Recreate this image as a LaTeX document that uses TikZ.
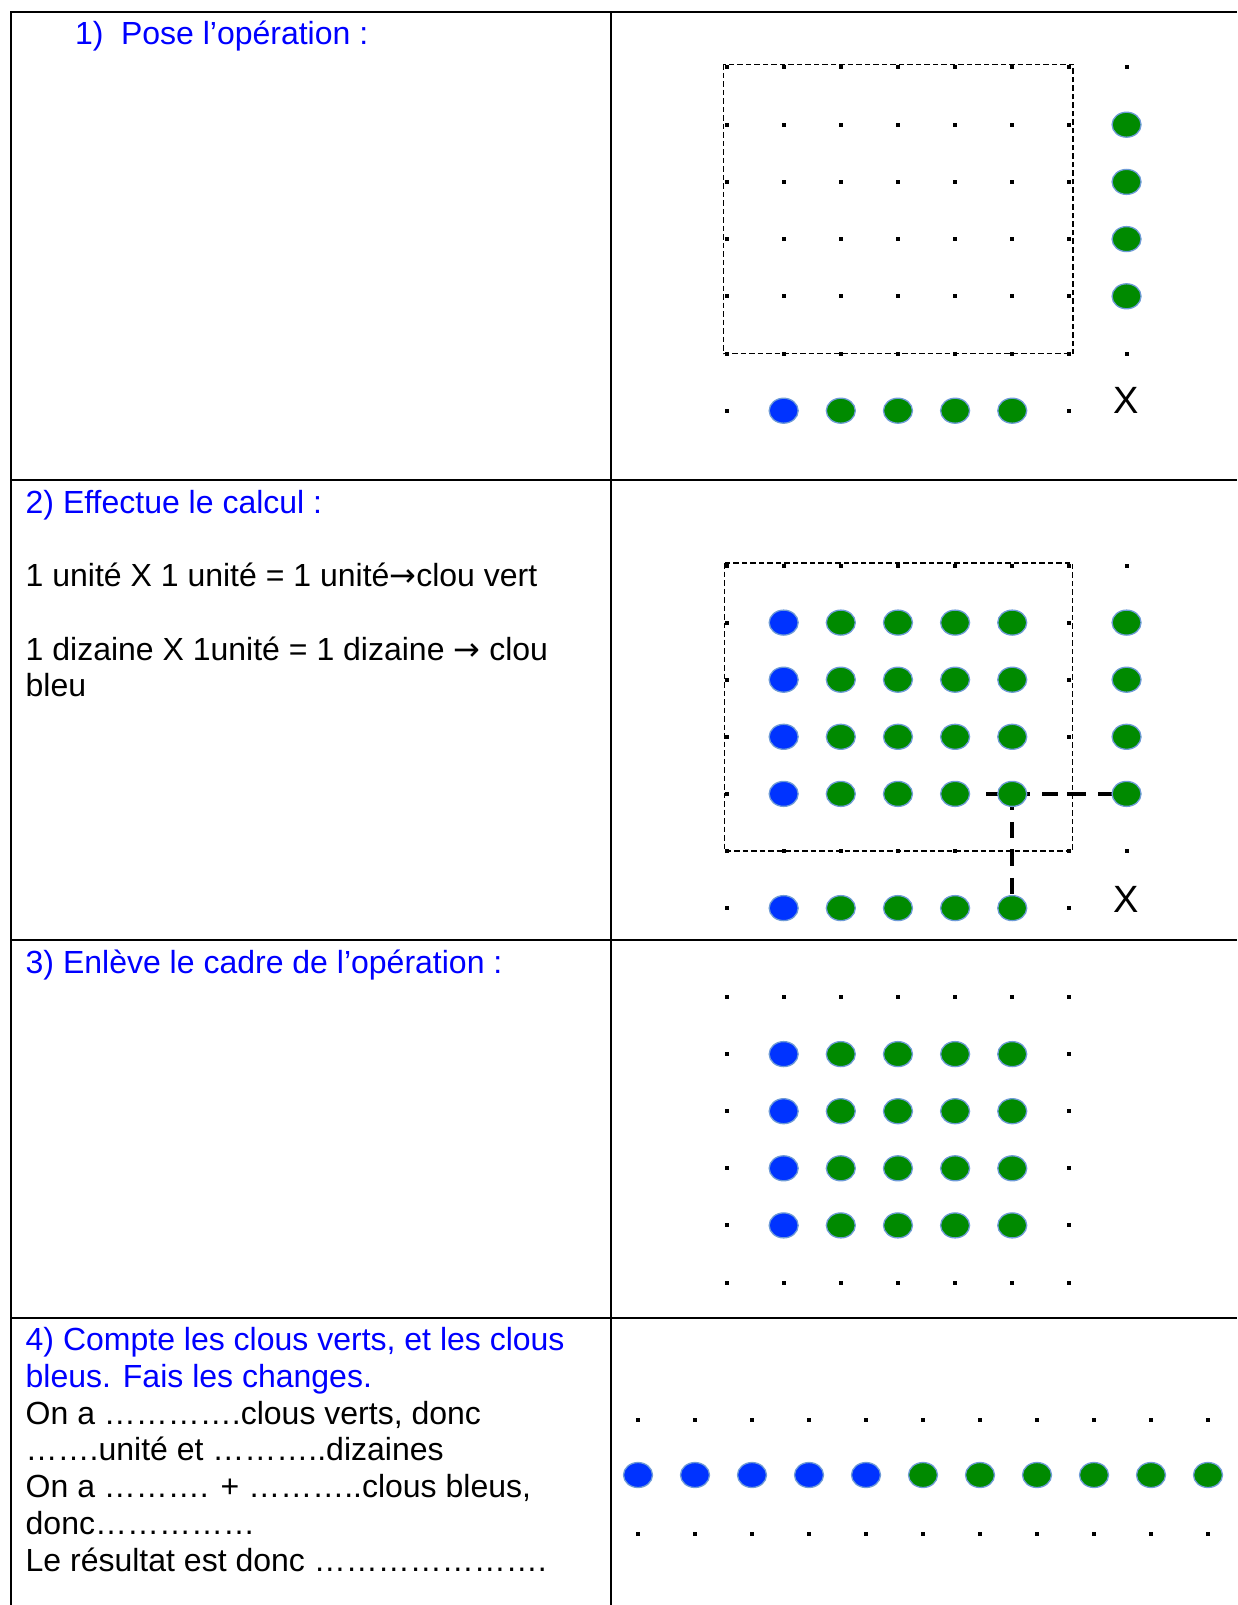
\documentclass[tikz,border=0pt]{standalone}
\usepackage{fontspec}
\setmainfont{Liberation Sans}
\newfontfamily\arrowfont{DejaVu Sans}
\usetikzlibrary{shapes.geometric,backgrounds}
\definecolor{nailgreen}{RGB}{0,138,0}
\definecolor{nailblue}{RGB}{0,51,255}
\definecolor{nailedge}{RGB}{110,155,215}
\definecolor{txtblue}{RGB}{0,0,255}
\newcommand{\rarr}{{\arrowfont →}}
\begin{document}
\begin{tikzpicture}[x=1pt,y=-1pt,
  tbl/.style={line width=2.2pt,black},
  txt/.style={anchor=base west,inner sep=0pt,outer sep=0pt,font=\fontsize{32}{36.8}\selectfont},
  btxt/.style={txt,text=txtblue},
  bigx/.style={anchor=base,inner sep=0pt,outer sep=0pt,font=\fontsize{38}{40}\selectfont},
  sq/.style={rectangle,fill=black,minimum size=4pt,inner sep=0pt,outer sep=0pt},
  nail/.style={ellipse,draw=nailedge,line width=1.3pt,minimum width=29pt,minimum height=25pt,inner sep=0pt,outer sep=0pt},
  gnail/.style={nail,fill=nailgreen},
  bnail/.style={nail,fill=nailblue},
  frame/.style={line width=1.3pt,dash pattern=on 5.5pt off 3pt},
  link/.style={line width=3.6pt,dash pattern=on 16pt off 12pt}
]
\useasboundingbox (0,0) rectangle (1237,1605);

% table
\draw[tbl] (11,1605) -- (11,12) -- (1237,12);
\draw[tbl] (611,12) -- (611,1605);
\draw[tbl] (11,480) -- (1237,480);
\draw[tbl] (11,940) -- (1237,940);
\draw[tbl] (11,1318) -- (1237,1318);

% texts
\node[btxt] (t1a) at (75,44.5) {1)};
\node[btxt] (t1b) at (121,44.5) {Pose l’opération :};

\node[btxt] (t2a) at (25.7,513) {2) Effectue le calcul :};
\node[txt] (t2b) at (25.7,586.5) {1 unité X 1 unité = 1 unité\rarr clou vert};
\node[txt] (t2c) at (25.7,660) {1 dizaine X 1unité = 1 dizaine \rarr{} clou};
\node[txt] (t2d) at (25.7,696.8) {bleu};

\node[btxt] (t3a) at (25.7,973.5) {3) Enlève le cadre de l’opération :};

\node[btxt] (t4a) at (25.7,1350.5) {4) Compte les clous verts, et les clous};
\node[btxt] (t4b) at (25.7,1387.3) {bleus. Fais les changes.};
\node[txt] (t4c) at (25.7,1424.1) {On a ………….clous verts, donc};
\node[txt] (t4d) at (25.7,1460.9) {…….unité et ………..dizaines};
\node[txt] (t4e) at (25.7,1497.7) {On a ………. + ………..clous bleus,};
\node[txt] (t4f) at (25.7,1534.5) {donc……………};
\node[txt] (t4g) at (25.7,1571.3) {Le résultat est donc ………………….};

% ---------- panel 1 ----------
\draw[frame] (723.5,64.5) rectangle (1073,353.5);
\foreach \i in {0,...,6}
  \foreach \j in {0,...,5}
    \node[sq] (a-\i-\j) at ({726.5+57.15*\i},{67.5+57.2*\j}) {};
\node[sq] (a-7-0) at ({726.5+57.15*7},67.5) {};
\foreach \j in {1,...,4}
  \node[gnail] (a-7-\j) at ({726.5+57.15*7},{67.5+57.2*\j}) {};
\node[sq] (a-7-5) at ({726.5+57.15*7},{67.5+57.2*5}) {};
\node[bigx] (a-x) at ({726.5+57.15*7},{67.5+57.2*6+2.5}) {X};
\node[sq] (a-0-6) at (726.5,{67.5+57.2*6}) {};
\node[bnail] (a-1-6) at ({726.5+57.15},{67.5+57.2*6}) {};
\foreach \i in {2,...,5}
  \node[gnail] (a-\i-6) at ({726.5+57.15*\i},{67.5+57.2*6}) {};
\node[sq] (a-6-6) at ({726.5+57.15*6},{67.5+57.2*6}) {};

% ---------- panel 2 ----------
\draw[frame] (724.5,563) rectangle (1072.5,851);
\foreach \i in {0,...,7} {
  \node[sq] (b-\i-0) at ({726.5+57.15*\i},565.5) {};
  \node[sq] (b-\i-5) at ({726.5+57.15*\i},{565.5+57.1*5}) {};
}
\foreach \j in {1,...,4} {
  \node[sq] (b-0-\j) at (726.5,{565.5+57.1*\j}) {};
  \node[bnail] (b-1-\j) at ({726.5+57.15},{565.5+57.1*\j}) {};
  \foreach \i in {2,...,5}
    \node[gnail] (b-\i-\j) at ({726.5+57.15*\i},{565.5+57.1*\j}) {};
  \node[sq] (b-6-\j) at ({726.5+57.15*6},{565.5+57.1*\j}) {};
  \node[gnail] (b-7-\j) at ({726.5+57.15*7},{565.5+57.1*\j}) {};
}
\node[sq] (b-0-6) at (726.5,{565.5+57.1*6}) {};
\node[bnail] (b-1-6) at ({726.5+57.15},{565.5+57.1*6}) {};
\foreach \i in {2,...,5}
  \node[gnail] (b-\i-6) at ({726.5+57.15*\i},{565.5+57.1*6}) {};
\node[sq] (b-6-6) at ({726.5+57.15*6},{565.5+57.1*6}) {};
\node[bigx] (b-x) at ({726.5+57.15*7},{565.5+57.1*6+4.5}) {X};
\coordinate (hstart) at ({726.5+57.15*5-26},{565.5+57.1*4});
\begin{pgfonlayer}{background}
  \draw[link] (hstart) -- (b-7-4.center);
  \draw[link] (b-5-4.center) -- (b-5-6.center);
\end{pgfonlayer}

% ---------- panel 3 ----------
\foreach \i in {0,...,6} {
  \node[sq] (c-\i-0) at ({726.5+57.15*\i},997) {};
  \node[sq] (c-\i-5) at ({726.5+57.15*\i},{997+57.1*5}) {};
}
\foreach \j in {1,...,4} {
  \node[sq] (c-0-\j) at (726.5,{997+57.1*\j}) {};
  \node[bnail] (c-1-\j) at ({726.5+57.15},{997+57.1*\j}) {};
  \foreach \i in {2,...,5}
    \node[gnail] (c-\i-\j) at ({726.5+57.15*\i},{997+57.1*\j}) {};
  \node[sq] (c-6-\j) at ({726.5+57.15*6},{997+57.1*\j}) {};
}

% ---------- panel 4 ----------
\foreach \i in {0,...,10} {
  \node[sq] (d-\i-t) at ({638+57*\i},1419.5) {};
  \node[sq] (d-\i-b) at ({638+57*\i},1534) {};
}
\foreach \i in {0,...,4}
  \node[bnail] (d-\i-m) at ({638+57*\i},1475) {};
\foreach \i in {5,...,10}
  \node[gnail] (d-\i-m) at ({638+57*\i},1475) {};

\end{tikzpicture}
\end{document}
